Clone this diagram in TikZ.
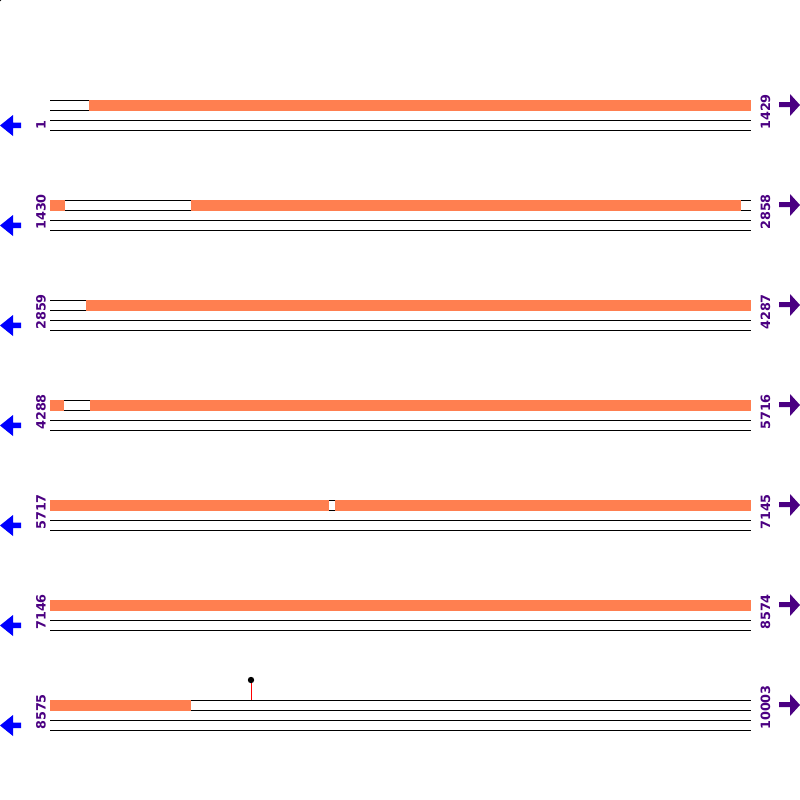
\documentclass[tikz,border=0pt]{standalone}
\usepackage{fontspec}
\setmainfont{DejaVu Sans}
\usepackage{tikz}
\usetikzlibrary{positioning, calc}
\definecolor{feat}{HTML}{FF7F50}
\definecolor{lab}{HTML}{4B0082}
\definecolor{revarrow}{HTML}{0000FF}
\tikzset{
    strand/.style={black, line width=1pt},
    featbar/.style={fill=feat, draw=none},
    poslabel/.style={lab, rotate=90, anchor=west, inner sep=0pt, font=\fontsize{12.8}{14}\selectfont\bfseries},
}
\begin{document}
\begin{tikzpicture}[x=1pt, y=-1pt]
    \def\xstart{50}
    \def\xend{751}
    \def\rowsep{100}

    \useasboundingbox[fill=white] (0,0) rectangle (800,800);
    \fill[black] (0,0) circle (1.5);

    \foreach \r/\lstart/\lend/\segs in {
        0/1/1429/{89/751},
        1/1430/2858/{50/65,191/741},
        2/2859/4287/{86/751},
        3/4288/5716/{50/64,90/751},
        4/5717/7145/{50/329,335/751},
        5/7146/8574/{50/751},
        6/8575/10003/{50/191}}
    {
        \pgfmathsetmacro{\y}{100 + \r * \rowsep}

        % four strands
        \foreach \dy in {0,10,20,30}
        {
            \draw[strand] (\xstart, \y + \dy) -- (\xend, \y + \dy);
        }

        % features
        \foreach \a/\b in \segs
        {
            \path[featbar] (\a, \y - 0.5) rectangle (\b, \y + 10.5);
        }

        % position labels
        \node[poslabel] (lstart\r) at (41, \y + 30) {\lstart};
        \node[poslabel] (lend\r) at (765.5, \y + 30) {\lend};

        % direction arrows
        \fill[revarrow] (0, \y + 25.5) -- (13, \y + 15) -- (13, \y + 22.5) -- (21, \y + 22.5)
            -- (21, \y + 28) -- (13, \y + 28) -- (13, \y + 36) -- cycle;
        \fill[lab] (800, \y + 5) -- (790, \y - 6) -- (790, \y + 2) -- (779, \y + 2)
            -- (779, \y + 7) -- (790, \y + 7) -- (790, \y + 16) -- cycle;
    }

    % site marker
    \coordinate (site) at (251, 700);
    \coordinate (sitetop) at (251, 680);
    \draw[red, line width=0.8pt] (site) -- (sitetop);
    \fill[black] (sitetop) circle (3.2);
\end{tikzpicture}
\end{document}
